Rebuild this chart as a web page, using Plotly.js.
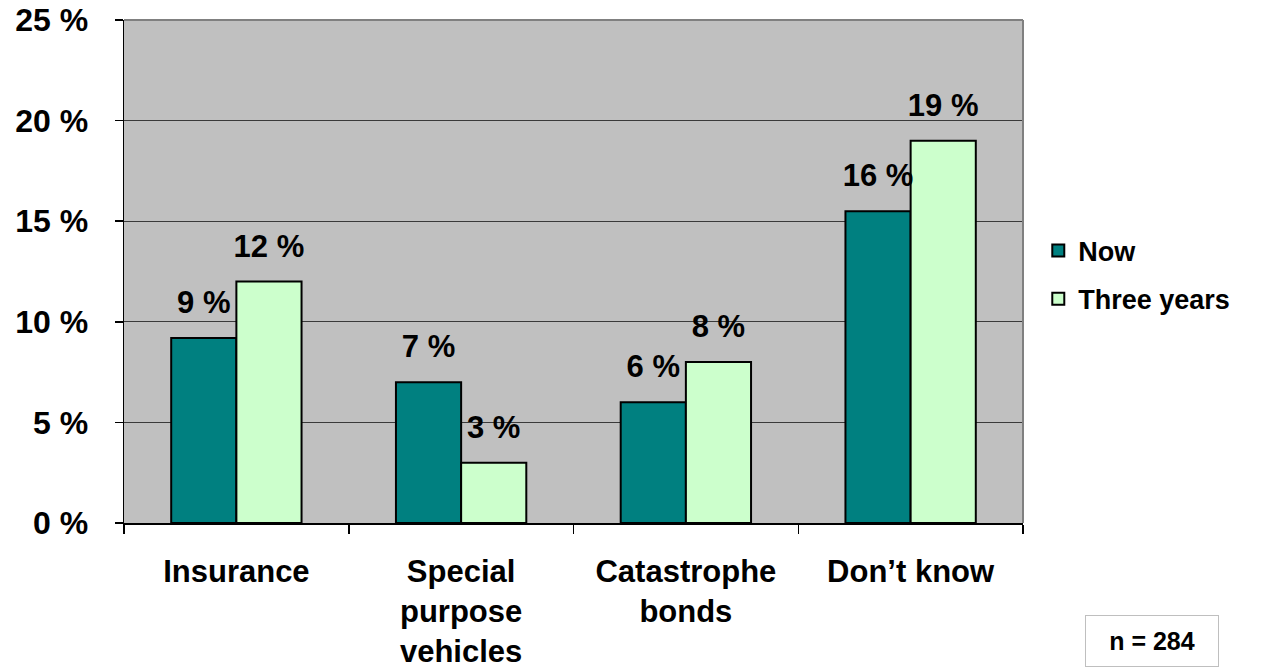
<!DOCTYPE html>
<html>
<head>
<meta charset="utf-8">
<script src="https://cdn.plot.ly/plotly-3.0.1.min.js"></script>
<style>
  html, body { margin: 0; padding: 0; background: #ffffff; }
  #chart { width: 1262px; height: 672px; }
</style>
</head>
<body>
<div id="chart"></div>
<script>
// Survey: vehicles used, now and in three years
const categories = ['Insurance', 'Special<br>purpose<br>vehicles', 'Catastrophe<br>bonds', 'Don\u2019t know'];
const nowValues = [9.2, 7, 6, 15.5];
const threeYearValues = [12, 3, 8, 19];
const seriesNames = ['Now', 'Three years'];
const yTickValues = [0, 5, 10, 15, 20, 25];
const yTickLabels = ['0 %', '5 %', '10 %', '15 %', '20 %', '25 %'];
const sampleNote = 'n = 284';

const FONT = 'Liberation Sans, Arial, Helvetica, sans-serif';
const colors = ['#008080', '#CCFFCC'];
const BARGAP = 0.42;

const barTrace = (name, values, color, group) => ({
  type: 'bar',
  name: name,
  x: categories,
  y: values,
  offsetgroup: group,
  legendgroup: group,
  marker: { color: color, line: { color: '#000000', width: 2 } },
  hoverinfo: 'skip'
});

// value labels drawn as grouped text points so they sit over their own bars;
// the transparent marker only lifts the text clear of the bar top
const labelTrace = (values, group) => ({
  type: 'scatter',
  mode: 'markers+text',
  x: categories,
  y: values,
  offsetgroup: group,
  showlegend: false,
  texttemplate: '%{y:.0f} %',
  textposition: 'top center',
  textfont: { family: FONT, size: 31, weight: 700, color: '#000000' },
  marker: { size: 26, opacity: 0 },
  cliponaxis: false,
  hoverinfo: 'skip'
});

const data = [
  barTrace(seriesNames[0], nowValues, colors[0], 'a'),
  barTrace(seriesNames[1], threeYearValues, colors[1], 'b'),
  labelTrace(nowValues, 'a'),
  labelTrace(threeYearValues, 'b')
];

const layout = {
  width: 1262,
  height: 672,
  margin: { l: 124, r: 239, t: 20, b: 149, pad: 0 },
  paper_bgcolor: '#ffffff',
  plot_bgcolor: '#C0C0C0',
  barmode: 'group',
  bargap: BARGAP,
  bargroupgap: 0,
  scattermode: 'group',
  scattergap: BARGAP,
  font: { family: FONT, color: '#000000', weight: 700 },
  showlegend: true,
  legend: {
    x: 1.017, y: 0.493, xanchor: 'left', yanchor: 'middle',
    font: { family: FONT, size: 27, weight: 700 },
    bgcolor: 'rgba(0,0,0,0)',
    tracegroupgap: 10,
    itemwidth: 30
  },
  xaxis: {
    type: 'category',
    showline: true, linecolor: '#000000', linewidth: 1.5,
    ticks: 'outside', tickson: 'boundaries', ticklen: 9, tickcolor: '#000000', tickwidth: 1.5,
    tickfont: { family: FONT, size: 31, weight: 700 },
    ticklabelstandoff: 20,
    showgrid: false, zeroline: false, fixedrange: true
  },
  yaxis: {
    range: [0, 25],
    tickmode: 'array', tickvals: yTickValues, ticktext: yTickLabels,
    showline: true, linecolor: '#000000', linewidth: 1.5,
    ticks: 'outside', ticklen: 8, tickcolor: '#000000', tickwidth: 1.5,
    tickfont: { family: FONT, size: 32, weight: 700 },
    ticklabelstandoff: 20,
    showgrid: true, gridcolor: '#3A3A3A', gridwidth: 1,
    zeroline: false, fixedrange: true
  },
  shapes: [
    // grey frame along the top and right of the plot area
    { type: 'line', xref: 'paper', yref: 'paper', x0: 0, x1: 1, y0: 1, y1: 1, line: { color: '#808080', width: 2 } },
    { type: 'line', xref: 'paper', yref: 'paper', x0: 1, x1: 1, y0: 0, y1: 1, line: { color: '#808080', width: 2 } }
  ],
  annotations: [
    {
      xref: 'paper', yref: 'paper', x: 1.1435, y: -0.2346,
      xanchor: 'center', yanchor: 'middle',
      text: sampleNote, showarrow: false,
      font: { family: FONT, size: 25, weight: 700, color: '#000000' },
      bgcolor: '#ffffff', bordercolor: '#BFBFBF', borderwidth: 1,
      width: 130, height: 48
    }
  ]
};

Plotly.newPlot('chart', data, layout, { displayModeBar: false, staticPlot: true });
</script>
</body>
</html>
